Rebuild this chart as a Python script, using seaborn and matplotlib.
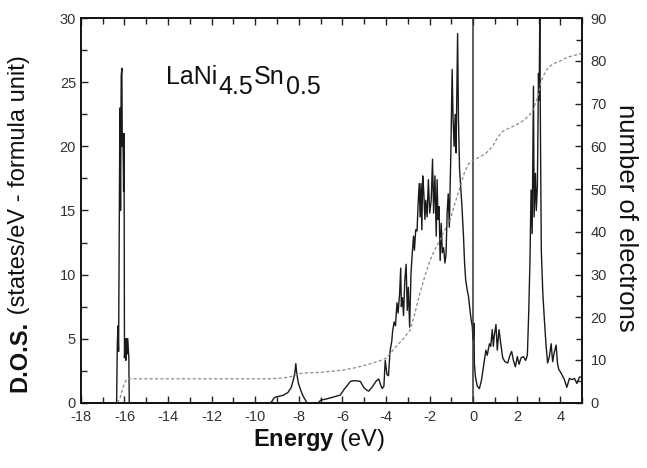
import numpy as np
import pandas as pd
import matplotlib
matplotlib.use("Agg")
import matplotlib.pyplot as plt
from matplotlib.ticker import MultipleLocator
import seaborn as sns

# ---------------- data ----------------
energy = [
    -18.0, -16.40, -16.36, -16.33, -16.30, -16.27, -16.24, -16.21, -16.18, -16.15,
    -16.12, -16.10, -16.07, -16.04, -16.02, -16.00, -15.97, -15.94, -15.91, -15.88,
    -15.85, -15.80, -15.78, -9.30, -9.24, -9.15, -9.05, -8.90, -8.70, -8.50,
    -8.35, -8.25, -8.18, -8.14, -8.10, -8.02, -7.90, -7.80, -7.70, -7.64,
    -7.10, -7.00, -6.72, -6.40, -6.10, -5.98, -5.90, -5.80, -5.64, -5.49,
    -5.30, -5.18, -5.03, -4.90, -4.80, -4.65, -4.57, -4.45, -4.34, -4.25,
    -4.18, -4.10, -4.04, -3.96, -3.89, -3.82, -3.74, -3.70, -3.63, -3.57,
    -3.50, -3.45, -3.38, -3.33, -3.30, -3.25, -3.20, -3.14, -3.08, -3.03,
    -2.98, -2.92, -2.86, -2.81, -2.74, -2.70, -2.64, -2.58, -2.53, -2.48,
    -2.44, -2.40, -2.36, -2.32, -2.27, -2.22, -2.18, -2.12, -2.06, -2.00,
    -1.93, -1.87, -1.82, -1.76, -1.70, -1.66, -1.62, -1.57, -1.52, -1.47,
    -1.42, -1.36, -1.30, -1.25, -1.20, -1.15, -1.10, -1.03, -0.97, -0.93,
    -0.88, -0.83, -0.79, -0.72, -0.68, -0.63, -0.58, -0.52, -0.45, -0.40,
    -0.35, -0.28, -0.22, -0.17, -0.10, -0.05, -0.02, 0.00, 0.03, 0.05,
    0.10, 0.18, 0.28, 0.38, 0.49, 0.58, 0.64, 0.74, 0.80, 0.87,
    0.92, 0.96, 1.04, 1.10, 1.18, 1.26, 1.35, 1.45, 1.58, 1.68,
    1.76, 1.84, 1.93, 2.02, 2.10, 2.19, 2.30, 2.40, 2.48, 2.54,
    2.60, 2.65, 2.70, 2.76, 2.79, 2.85, 2.89, 2.94, 2.99, 3.02,
    3.05, 3.08, 3.12, 3.19, 3.26, 3.34, 3.41, 3.49, 3.57, 3.64,
    3.71, 3.80, 3.86, 3.92, 4.03, 4.18, 4.29, 4.41, 4.53, 4.64,
    4.75, 4.87, 5.00,
]
dos = [
    0.0, 0.0, 0.0, 4.5, 6.0, 4.0, 13.0, 23.0, 15.0, 25.5,
    26.1, 20.0, 21.0, 16.5, 21.0, 3.5, 5.0, 3.3, 5.0, 3.8,
    5.0, 3.5, 0.0, 0.0, 0.1, 0.35, 0.45, 0.5, 0.6, 0.8,
    1.2, 1.8, 2.4, 3.05, 2.3, 1.5, 0.9, 0.5, 0.2, 0.0,
    0.0, 0.2, 0.3, 0.45, 0.6, 0.9, 1.1, 1.3, 1.66, 1.72,
    1.7, 1.66, 1.2, 1.0, 0.9, 1.2, 1.4, 1.7, 1.85, 1.4,
    1.1, 1.3, 3.3, 2.2, 2.1, 4.0, 4.8, 5.6, 6.3, 6.0,
    7.8, 7.0, 8.5, 10.5, 7.5, 8.2, 6.8, 9.6, 10.8, 7.2,
    9.0, 5.9, 10.0, 11.4, 13.0, 11.9, 13.5, 13.4, 15.6, 17.1,
    14.5, 17.1, 13.5, 17.7, 16.4, 14.3, 15.8, 14.5, 17.4, 14.8,
    15.8, 19.0, 14.8, 17.7, 13.0, 17.4, 14.3, 15.3, 11.1, 14.0,
    11.7, 12.1, 10.9, 11.6, 14.8, 16.3, 13.7, 19.5, 26.0, 22.3,
    20.0, 22.5, 19.5, 28.8, 22.1, 18.2, 16.9, 15.3, 13.0, 10.9,
    9.6, 8.8, 8.3, 7.5, 6.5, 6.0, 5.2, 4.9, 6.2, 3.0,
    2.0, 1.3, 1.1, 1.8, 3.1, 4.1, 3.7, 4.6, 4.4, 5.7,
    4.4, 5.2, 6.1, 4.1, 5.7, 4.6, 3.5, 3.2, 3.1, 3.7,
    4.0, 3.3, 2.8, 3.6, 3.0, 3.5, 3.6, 3.3, 3.7, 6.9,
    11.1, 16.6, 13.2, 24.7, 14.5, 17.9, 15.0, 16.9, 25.7, 23.6,
    30.0, 21.0, 11.9, 8.5, 6.5, 4.4, 3.1, 3.6, 4.6, 3.2,
    3.9, 4.5, 3.1, 2.6, 2.3, 1.8, 1.2, 1.9, 1.8, 1.9,
    1.5, 2.0, 2.0,
]

n_energy = [
    -16.32, -16.20, -16.10, -16.00, -15.90, -15.80, -12.00, -9.30, -8.70, -8.30,
    -8.00, -7.60, -7.00, -6.00, -5.40, -4.80, -4.30, -4.00, -3.55, -3.20,
    -2.90, -2.70, -2.45, -2.20, -1.98, -1.75, -1.52, -1.30, -1.06, -0.85,
    -0.60, -0.40, -0.20, 0.00, 0.30, 0.58, 0.89, 1.10, 1.35, 1.65,
    1.96, 2.20, 2.42, 2.60, 2.73, 2.85, 2.96, 3.08, 3.19, 3.35,
    3.49, 3.70, 3.95, 4.20, 4.41, 4.70, 5.00,
]
n_electrons = [
    0.0, 1.2, 3.0, 4.6, 5.5, 5.6, 5.6, 5.6, 5.8, 6.2,
    6.8, 7.0, 7.1, 7.6, 8.2, 9.0, 9.8, 10.4, 13.1, 15.0,
    17.0, 20.5, 25.6, 30.0, 33.4, 36.0, 38.1, 40.5, 42.8, 46.5,
    50.6, 54.0, 56.0, 56.8, 57.5, 58.4, 60.0, 62.0, 63.5, 64.3,
    65.0, 65.7, 66.6, 67.5, 68.5, 70.0, 71.7, 74.5, 76.3, 77.8,
    78.7, 79.4, 79.9, 80.6, 81.0, 81.4, 81.8,
]

x_ticks = [-18, -16, -14, -12, -10, -8, -6, -4, -2, 0, 2, 4]
y_left_ticks = [0, 5, 10, 15, 20, 25, 30]
y_right_ticks = [0, 10, 20, 30, 40, 50, 60, 70, 80, 90]

# ---------------- style ----------------
sns.set_style("ticks")
plt.rcParams["font.family"] = ["Liberation Sans", "DejaVu Sans"]
plt.rcParams["mathtext.fontset"] = "custom"
plt.rcParams["mathtext.rm"] = "Liberation Sans"
plt.rcParams["mathtext.bf"] = "Liberation Sans:bold"

fig = plt.figure(figsize=(6.47, 4.68), dpi=100)
ax = fig.add_axes([0.125, 0.1395, 0.775, 0.8215])

df_dos = pd.DataFrame({"E": energy, "DOS": dos})
df_n = pd.DataFrame({"E": n_energy, "N": n_electrons})

sns.lineplot(data=df_dos, x="E", y="DOS", ax=ax, color="#1a1a1a", lw=1.0,
             estimator=None, sort=False)
ax.axvline(0, color="#333333", lw=1.1)

ax2 = ax.twinx()
sns.lineplot(data=df_n, x="E", y="N", ax=ax2, color="#8a8a8a", lw=0.9,
             estimator=None, sort=False)
ax2.lines[0].set_dashes([2.5, 1.8])

ax.set_xlim(-18, 5)
ax.set_ylim(0, 30)
ax2.set_ylim(0, 90)

ax.set_xticks(x_ticks)
ax.set_xticklabels([str(t) for t in x_ticks])
ax.xaxis.set_minor_locator(MultipleLocator(1))
ax.set_yticks(y_left_ticks)
ax.yaxis.set_minor_locator(MultipleLocator(2.5))
ax2.set_yticks(y_right_ticks)
ax2.yaxis.set_minor_locator(MultipleLocator(5))

for a in (ax, ax2):
    a.tick_params(which="major", direction="in", length=5, width=1.0,
                  labelsize=10.5, colors="#222222", labelcolor="#333333")
    a.tick_params(which="minor", direction="in", length=4, width=1.0, colors="#222222")
    for s in a.spines.values():
        s.set_linewidth(1.2)
        s.set_color("#111111")
ax.tick_params(which="both", top=True, right=False)
ax.tick_params(axis="x", pad=5)
ax2.tick_params(axis="y", pad=6)
ax.set_xlabel("")
ax.set_ylabel("")
ax2.set_ylabel("")

# axis titles (bold + regular parts)
ax.text(0.475, -0.097, r"$\mathbf{Energy}$ (eV)", transform=ax.transAxes,
        fontsize=17, ha="center", va="center", color="#111111")

t1 = fig.text(0.030, 0.162, "D.O.S.", rotation=90, fontsize=17, fontweight="bold",
              ha="center", va="bottom", color="#111111")
ax.annotate(" (states/eV - formula unit)", xy=(0.5, 1.0), xycoords=t1,
            rotation=90, fontsize=17, ha="center", va="bottom", color="#111111",
            annotation_clip=False)

fig.text(0.967, 0.534, "number of electrons", rotation=270, fontsize=18.5,
         ha="center", va="center", color="#111111")

# compound label with large subscripts, laid out in pixel coordinates
fig.canvas.draw()
renderer = fig.canvas.get_renderer()
pieces = [("LaNi", 18, 0.0), ("4.5", 18, -10.0), ("Sn", 18, 0.0), ("0.5", 18, -10.0)]
x0, y0 = ax.transData.transform((-14.1, 24.9))
cur_x = x0
for txt, size, dy in pieces:
    t = fig.text(cur_x, y0 + dy, txt, fontsize=size, ha="left", va="baseline",
                 color="#111111", transform=None)
    bb = t.get_window_extent(renderer)
    cur_x = bb.x1 + 1.0

fig.savefig("out.png", dpi=100)
